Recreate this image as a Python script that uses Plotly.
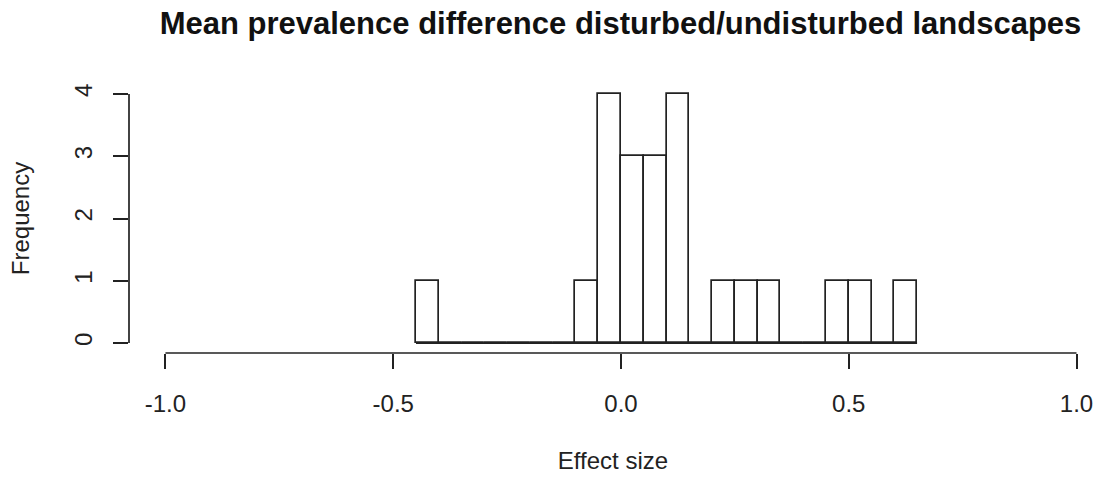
import plotly.graph_objects as go

# Histogram data (bin left edges, width 0.05)
bin_left = [-0.45, -0.40, -0.35, -0.30, -0.25, -0.20, -0.15, -0.10, -0.05, 0.00, 0.05,
            0.10, 0.15, 0.20, 0.25, 0.30, 0.35, 0.40, 0.45, 0.50, 0.55, 0.60]
counts = [1, 0, 0, 0, 0, 0, 0, 1, 4, 3, 3, 4, 0, 1, 1, 1, 0, 0, 1, 1, 0, 1]
bin_width = 0.05

x_tickvals = [-1.0, -0.5, 0.0, 0.5, 1.0]
x_ticktext = ["-1.0", "-0.5", "0.0", "0.5", "1.0"]
y_tickvals = [0, 1, 2, 3, 4]
y_ticktext = ["0", "1", "2", "3", "4"]

title = "Mean prevalence difference disturbed/undisturbed landscapes"
xlabel = "Effect size"
ylabel = "Frequency"

centers = [b + bin_width / 2 for b in bin_left]
LW = 1.7
FONT = "Liberation Sans, Arial, sans-serif"

fig = go.Figure()
# zero-count bins appear as a flat line along 0
fig.add_trace(go.Scatter(
    x=[bin_left[0], bin_left[-1] + bin_width], y=[0, 0], mode="lines",
    line=dict(color="#222222", width=LW), hoverinfo="skip", showlegend=False))
fig.add_trace(go.Bar(
    x=centers, y=counts, width=bin_width,
    marker=dict(color="white", line=dict(color="#222222", width=LW)),
    showlegend=False))

W, H = 1097, 477
fig.update_layout(
    width=W, height=H,
    margin=dict(l=128.6, r=0, t=84, b=124, pad=0),
    paper_bgcolor="white", plot_bgcolor="white",
    font=dict(family=FONT, size=24, color="#222222"),
    title=dict(text="<b>" + title + "</b>", x=(128.6 + 1112.4) / 2 / W,
               xanchor="center", y=1 - 34 / H, yanchor="bottom",
               font=dict(family=FONT, size=31, color="#111111")),
    bargap=0,
    xaxis=dict(range=[-1.08, (W - 620.8) / 455.7], showgrid=False, zeroline=False,
               showline=False, tickvals=x_tickvals, ticktext=x_ticktext,
               ticks="outside", ticklen=15, tickwidth=LW, tickcolor="#222222",
               ticklabelstandoff=14,
               title=dict(text=xlabel, standoff=36, font=dict(size=24))),
    yaxis=dict(range=[-0.16, 4.16], showgrid=False, zeroline=False,
               showline=False, tickvals=y_tickvals, ticktext=y_ticktext,
               ticks="outside", ticklen=15, tickwidth=LW, tickcolor="#222222",
               tickangle=-90, ticklabelstandoff=11,
               title=dict(text=ylabel, standoff=34, font=dict(size=24))),
    shapes=[
        dict(type="line", xref="x", yref="paper", x0=x_tickvals[0], x1=x_tickvals[-1],
             y0=0, y1=0, line=dict(color="#222222", width=LW)),
        dict(type="line", xref="paper", yref="y", x0=0, x1=0,
             y0=y_tickvals[0], y1=y_tickvals[-1], line=dict(color="#222222", width=LW)),
    ],
)

fig.write_html("out.html")
